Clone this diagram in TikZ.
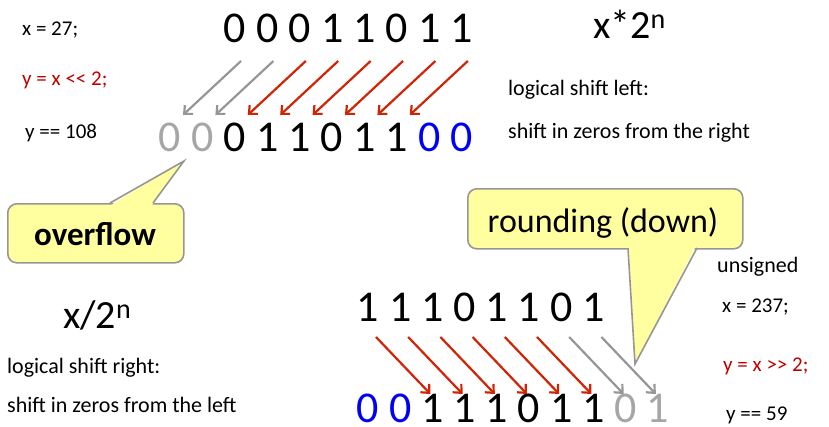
\documentclass[tikz,border=0pt]{standalone}
\usepackage{fontspec}
\setmainfont{Carlito}
\usetikzlibrary{calc,arrows.meta}
\definecolor{digitgray}{RGB}{166,166,166}
\definecolor{digitblue}{RGB}{0,0,245}
\definecolor{arrred}{RGB}{210,35,5}
\definecolor{arrgray}{RGB}{150,150,150}
\definecolor{codered}{RGB}{192,0,0}
\definecolor{callfill}{RGB}{255,255,160}
\definecolor{callline}{RGB}{150,150,150}
\begin{document}
\begin{tikzpicture}[x=1pt,y=-1pt,
  dig/.style={anchor=base,inner sep=0pt,text depth=0pt,font=\fontsize{44}{44}\selectfont},
  lbl/.style={anchor=base west,inner sep=0pt,font=\fontsize{21}{23}\selectfont},
  txt/.style={anchor=base west,inner sep=0pt,font=\fontsize{22}{24}\selectfont},
  big/.style={anchor=base west,inner sep=0pt,font=\fontsize{40}{40}\selectfont},
  redarr/.style={draw=arrred,line width=2.2pt,-{Straight Barb[length=6.5pt,width=12pt]}},
  grayarr/.style={draw=arrgray,line width=2.2pt,-{Straight Barb[length=6.5pt,width=12pt]}},
  callbox/.style={draw=callline,fill=callfill,line width=1.6pt,rounded corners=9pt,inner sep=0pt}]
\useasboundingbox (0,0) rectangle (829,426);

% ---------- left shift ----------
\foreach \d [count=\i] in {0,0,0,1,1,0,1,1}
  \node[dig] (t\i) at ({235+32.4*(\i-1)},42) {\d};
\foreach \d/\c [count=\i] in {0/digitgray,0/digitgray,0/black,1/black,1/black,0/black,1/black,1/black,0/digitblue,0/digitblue}
  \node[dig,text=\c] (b\i) at ({170+32.4*(\i-1)},151) {\d};
\foreach \i in {1,2}
  \draw[grayarr] ($(t\i.base)+(6,19)$) -- ($(b\i.base)+(13,-36)$);
\foreach \i in {3,...,8}
  \draw[redarr] ($(t\i.base)+(6,19)$) -- ($(b\i.base)+(13,-36)$);

\node[lbl] (xa) at (22,35) {x = 27;};
\node[lbl,text=codered] (ya) at (22,85) {y = x <\kern0pt< 2;};
\node[lbl] (yb) at (25,138) {y == 108};
\node[big] (mul) at (593,38) {x*2\textsuperscript{n}};
\node[txt] (lsl) at (508,95) {logical shift left:};
\node[txt] (lsl2) at (508,138) {shift in zeros from the right};

% overflow callout
\node[callbox,minimum width=176pt,minimum height=59pt,anchor=north west] (ovf) at (7,203) {};
\node[anchor=base,inner sep=0pt,font=\fontsize{33}{33}\selectfont\bfseries] (ovft) at (95,245) {overflow};
\coordinate (ovtip) at (184,161);
\fill[callfill] (111,205) -- (ovtip) -- (152,205) -- cycle;
\draw[callline,line width=1.6pt,line join=miter] (110,203) -- (ovtip) -- (153,203);

% ---------- right shift ----------
\foreach \d [count=\i] in {1,1,1,0,1,1,0,1}
  \node[dig] (u\i) at ({368+32.2*(\i-1)},321) {\d};
\foreach \d/\c [count=\i] in {0/digitblue,0/digitblue,1/black,1/black,1/black,0/black,1/black,1/black,0/digitgray,1/digitgray}
  \node[dig,text=\c] (v\i) at ({368+32.2*(\i-1)},422) {\d};
\foreach \i [evaluate=\i as \j using int(\i+2)] in {1,...,6}
  \draw[redarr] ($(u\i.base)+(8,16)$) -- ($(v\j.base)+(-2,-28)$);
\foreach \i [evaluate=\i as \j using int(\i+2)] in {7,8}
  \draw[grayarr] ($(u\i.base)+(8,16)$) -- ($(v\j.base)+(-2,-28)$);

\node[big] (dv) at (63,328) {x/2\textsuperscript{n}};
\node[txt] (lsr) at (7,373) {logical shift right:};
\node[txt] (lsr2) at (7,412) {shift in zeros from the left};
\node[txt] (uns) at (717,272) {unsigned};
\node[lbl] (xb) at (722,312) {x = 237;};
\node[lbl,text=codered] (yc) at (723,371) {y = x >\kern0pt> 2;};
\node[lbl] (yd) at (726,420) {y == 59};

% rounding callout
\node[callbox,minimum width=275pt,minimum height=60pt,anchor=north west] (rnd) at (467,188) {};
\node[anchor=base,inner sep=0pt,font=\fontsize{34}{34}\selectfont] (rndt) at (603,232) {rounding (down)};
\coordinate (rdtip) at (635,364);
\fill[callfill] (629,246) -- (rdtip) -- (696,246) -- cycle;
\draw[callline,line width=1.6pt,line join=miter] (628,248) -- (rdtip) -- (697,248);
\end{tikzpicture}
\end{document}
